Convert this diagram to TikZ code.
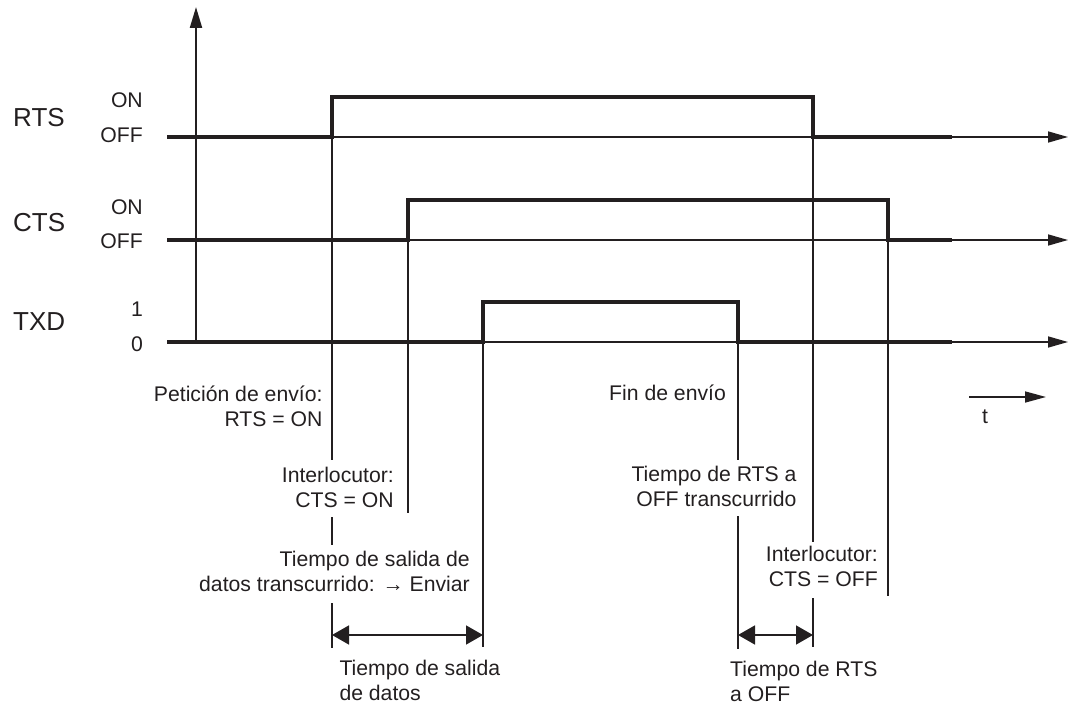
\documentclass[tikz,border=0pt]{standalone}
\usepackage{fontspec}
\setmainfont{Liberation Sans}
\usetikzlibrary{arrows.meta}
\definecolor{ink}{HTML}{231F20}
\begin{document}
\begin{tikzpicture}[x=1pt,y=-1pt,
  sig/.style={ink,line width=4.2pt,line join=miter,line cap=butt},
  base/.style={ink,line width=1.6pt,-{Triangle[length=20pt,width=11pt]}},
  axisline/.style={ink,line width=2.2pt,-{Triangle[length=21pt,width=12pt]}},
  vline/.style={ink,line width=1.5pt},
  span/.style={ink,line width=1.6pt,{Triangle[length=17pt,width=19pt]}-{Triangle[length=17pt,width=19pt]}},
  lbl/.style={inner sep=0pt,text=ink,font=\fontsize{21.2}{25}\selectfont},
  big/.style={inner sep=0pt,text=ink,font=\fontsize{26}{30}\selectfont}]
\useasboundingbox (0,0) rectangle (1071,706);
% axis
\draw[axisline] (196,342) -- (196,7);
% baselines
\draw[base] (332,137) -- (1068,137);
\draw[base] (408,240) -- (1068,240);
\draw[base] (483,342) -- (1068,342);
% signals
\draw[sig] (167,137) -- (332,137) -- (332,97) -- (813,97) -- (813,137) -- (952,137);
\draw[sig] (167,240) -- (408,240) -- (408,200) -- (888,200) -- (888,240) -- (952,240);
\draw[sig] (167,342) -- (483,342) -- (483,302) -- (738,302) -- (738,342) -- (952,342);
% vertical markers
\draw[vline] (332,137) -- (332,460) (332,517) -- (332,545) (332,603) -- (332,648);
\draw[vline] (408,240) -- (408,513);
\draw[vline] (483,342) -- (483,647);
\draw[vline] (738,342) -- (738,460) (738,516) -- (738,649);
\draw[vline] (813,137) -- (813,542) (813,598) -- (813,647);
\draw[vline] (888,240) -- (888,596);
% spans
\draw[span] (332,635) -- (483,635);
\draw[span] (738,635) -- (813,635);
\draw[ink,line width=1.6pt,-{Triangle[length=21pt,width=11pt]}] (969,397) -- (1046,397);
% signal names
\node[big,anchor=base west] (rts) at (13,126.7) {RTS};
\node[big,anchor=base west] (cts) at (13,231.7) {CTS};
\node[big,anchor=base west] (txd) at (13,330) {TXD};
% levels
\node[lbl,anchor=base east] (r1) at (143,107.3) {ON};
\node[lbl,anchor=base east] (r0) at (143,142.7) {OFF};
\node[lbl,anchor=base east] (c1) at (143,214) {ON};
\node[lbl,anchor=base east] (c0) at (143,248.3) {OFF};
\node[lbl,anchor=base east] (t1) at (143,316) {1};
\node[lbl,anchor=base east] (t0) at (143,351.6) {0};
% annotations (base anchor = last line)
\node[lbl,anchor=base east,align=right] (a1) at (322.7,426.7) {Petición de envío:\\RTS = ON};
\node[lbl,anchor=base east,align=right] (a2) at (394,507) {Interlocutor:\\CTS = ON};
\node[lbl,anchor=base east,align=right] (a3) at (470,591) {Tiempo de salida de\\datos transcurrido: → Enviar};
\node[lbl,anchor=base west,align=left] (a4) at (339.3,700.5) {Tiempo de salida\\de datos};
\node[lbl,anchor=base west] (b1) at (609,400.7) {Fin de envío};
\node[lbl,anchor=base east,align=right] (b2) at (796.7,506.7) {Tiempo de RTS a\\OFF transcurrido};
\node[lbl,anchor=base east,align=right] (b3) at (878,586.7) {Interlocutor:\\CTS = OFF};
\node[lbl,anchor=base west,align=left] (b4) at (730,701.5) {Tiempo de RTS\\a OFF};
\node[lbl,anchor=base] (tt) at (985,423) {t};
\end{tikzpicture}
\end{document}
